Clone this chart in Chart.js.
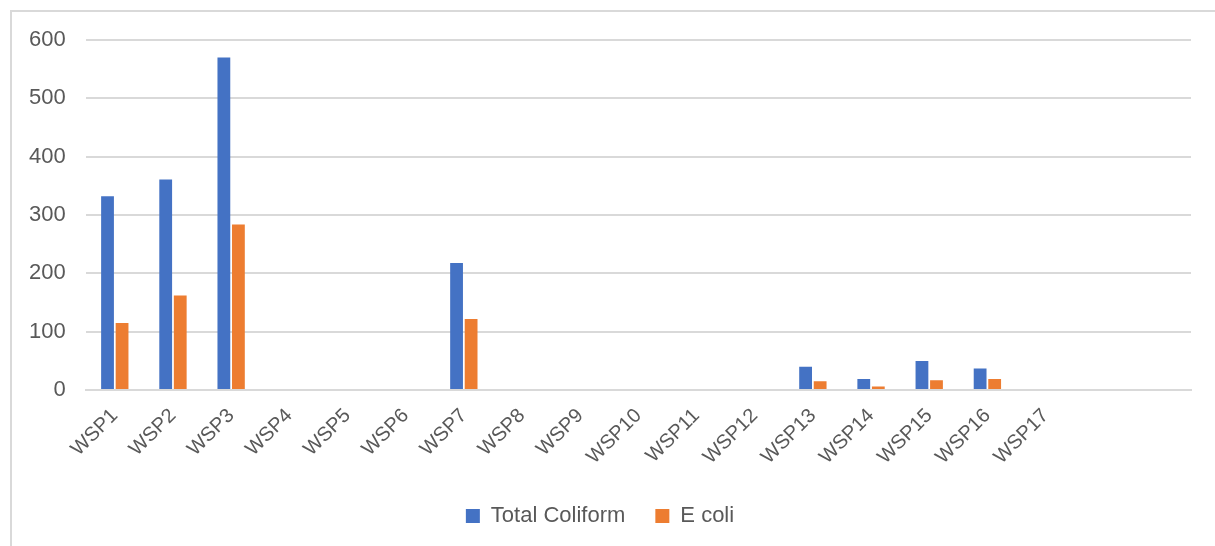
<!DOCTYPE html>
<html>
<head>
<meta charset="utf-8">
<script src="https://cdn.jsdelivr.net/npm/chart.js@4"></script>
<style>
    html, body { margin: 0; padding: 0; background: #fff; }
    #frame {
        position: absolute; left: 10px; top: 10px; width: 1205px; height: 536px;
        border-top: 2px solid #d9d9d9; border-left: 2px solid #d9d9d9;
    }
    #wrap { position: absolute; left: 0; top: 0; width: 1215px; height: 546px; }
</style>
</head>
<body>
<div id="frame"></div>
<div id="wrap"><canvas id="barChart"></canvas></div>
<script>
const labels = ['WSP1', 'WSP2', 'WSP3', 'WSP4', 'WSP5', 'WSP6', 'WSP7', 'WSP8', 'WSP9',
    'WSP10', 'WSP11', 'WSP12', 'WSP13', 'WSP14', 'WSP15', 'WSP16', 'WSP17', '', ''];
const totalColiform = [332, 361, 570, null, null, null, 218, null, null,
    null, null, null, 40, 19, 50, 37, null, null, null];
const eColi = [115, 162, 284, null, null, null, 122, null, null,
    null, null, null, 15, 6, 17, 19, null, null, null];
const yTicks = [0, 100, 200, 300, 400, 500, 600];

Chart.defaults.font.family = '"Liberation Sans", Arial, sans-serif';
Chart.defaults.color = '#595959';

new Chart(document.getElementById('barChart'), {
    type: 'bar',
    data: {
        labels: labels,
        datasets: [{
            label: 'Total Coliform',
            data: totalColiform,
            backgroundColor: '#4472c4',
            categoryPercentage: 0.5,
            barPercentage: 0.88
        }, {
            label: 'E coli',
            data: eColi,
            backgroundColor: '#ed7d31',
            categoryPercentage: 0.5,
            barPercentage: 0.88
        }]
    },
    options: {
        responsive: true,
        maintainAspectRatio: false,
        animation: false,
        layout: {
            padding: { left: 9, right: 24, top: 40, bottom: 9 }
        },
        scales: {
            x: {
                grid: { display: false },
                border: { display: true, color: '#d9d9d9', width: 2 },
                ticks: {
                    font: { size: 20 },
                    maxRotation: 45,
                    minRotation: 45,
                    autoSkip: false,
                    padding: 6
                }
            },
            y: {
                min: 0,
                max: 600,
                afterBuildTicks: axis => { axis.ticks = yTicks.map(v => ({ value: v })); },
                grid: { color: '#d9d9d9', lineWidth: 2, drawTicks: false },
                border: { display: false },
                ticks: { font: { size: 22 }, padding: 20 }
            }
        },
        plugins: {
            legend: {
                position: 'bottom',
                labels: {
                    font: { size: 22 },
                    boxWidth: 14,
                    boxHeight: 14,
                    padding: 30
                }
            },
            tooltip: { enabled: false }
        }
    }
});
</script>
</body>
</html>
